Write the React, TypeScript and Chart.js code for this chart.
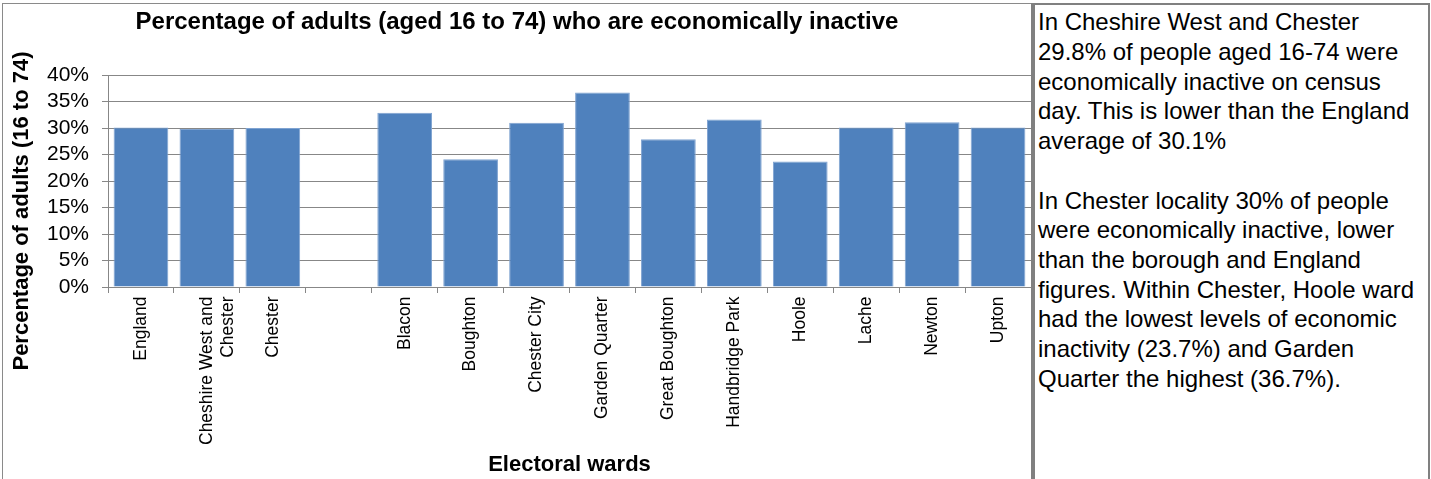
import React, { useEffect, useRef } from 'react';
import { Chart, registerables } from 'chart.js';

Chart.register(...registerables);

const FONT = '"Liberation Sans", Arial, sans-serif';

const CATEGORIES: (string | string[])[] = [
  'England',
  ['Cheshire West and', 'Chester'],
  'Chester',
  '',
  'Blacon',
  'Boughton',
  'Chester City',
  'Garden Quarter',
  'Great Boughton',
  'Handbridge Park',
  'Hoole',
  'Lache',
  'Newton',
  'Upton',
];
const VALUES: (number | null)[] = [30.1, 29.8, 30.0, null, 32.9, 24.1, 31.0, 36.7, 27.9, 31.6, 23.7, 30.1, 31.1, 30.1];
const Y_TICKS: number[] = [0, 5, 10, 15, 20, 25, 30, 35, 40];

const TITLE = 'Percentage of adults (aged 16 to 74) who are economically inactive';
const Y_TITLE = 'Percentage of adults (16 to 74)';
const X_TITLE = 'Electoral wards';

const NOTE_LINES: string[] = [
  'In Cheshire West and Chester',
  '29.8% of people aged 16-74 were',
  'economically inactive on census',
  'day. This is lower than the England',
  'average of 30.1%',
  '',
  'In Chester locality 30% of people',
  'were economically inactive, lower',
  'than the borough and England',
  'figures. Within Chester, Hoole ward',
  'had the lowest levels of economic',
  'inactivity (23.7%) and Garden',
  'Quarter the highest (36.7%).',
];

const GRID = '#878787';

const yTitlePlugin = {
  id: 'yTitleCustom',
  afterDraw(chart: any) {
    const ctx = chart.ctx;
    const area = chart.chartArea;
    ctx.save();
    ctx.font = `bold 22px ${FONT}`;
    ctx.fillStyle = '#000';
    ctx.textAlign = 'center';
    ctx.textBaseline = 'middle';
    ctx.translate(area.left - 86, area.top + 136);
    ctx.rotate(-Math.PI / 2);
    ctx.fillText(Y_TITLE, 0, 0);
    ctx.restore();
  },
};

export default function App() {
  const ref = useRef<HTMLCanvasElement | null>(null);

  useEffect(() => {
    if (!ref.current) return;
    const chart = new Chart(ref.current, {
      type: 'bar',
      data: {
        labels: CATEGORIES as any,
        datasets: [
          {
            data: VALUES,
            backgroundColor: '#4F81BD',
            borderColor: '#7FA3D1',
            borderWidth: 1,
            categoryPercentage: 1,
            barPercentage: 0.83,
          },
        ],
      },
      options: {
        responsive: false,
        animation: false,
        devicePixelRatio: 1,
        layout: { padding: 0 },
        plugins: {
          legend: { display: false },
          tooltip: { enabled: false },
          title: {
            display: true,
            text: TITLE,
            color: '#000',
            font: { family: FONT, size: 24, weight: 'bold' },
            padding: { top: 3.5, bottom: 38.7 },
          },
        },
        scales: {
          x: {
            grid: {
              display: true,
              drawOnChartArea: false,
              drawTicks: true,
              tickLength: 6,
              offset: true,
              color: GRID,
            },
            border: { display: true, color: GRID },
            ticks: {
              autoSkip: false,
              maxRotation: 90,
              minRotation: 90,
              padding: 3.5,
              color: '#000',
              font: { family: FONT, size: 17.5 },
            },
            title: {
              display: true,
              text: X_TITLE,
              color: '#000',
              font: { family: FONT, size: 22, weight: 'bold' },
              padding: { top: 0, bottom: 1 },
            },
            afterFit: (scale: any) => {
              scale.height = 192;
            },
          },
          y: {
            min: 0,
            max: 40,
            grid: {
              color: GRID,
              drawTicks: true,
              tickLength: 6,
            },
            border: { display: true, color: GRID },
            afterBuildTicks: (scale: any) => {
              scale.ticks = Y_TICKS.map((v) => ({ value: v }));
            },
            ticks: {
              autoSkip: false,
              stepSize: 5,
              padding: 13,
              color: '#000',
              font: { family: FONT, size: 21 },
              callback: (v: any) => `${v}%`,
            },
            afterFit: (scale: any) => {
              scale.width = 105;
            },
          },
        },
      },
      plugins: [yTitlePlugin],
    });
    return () => chart.destroy();
  }, []);

  return (
    <div
      style={{
        position: 'absolute',
        left: 0,
        top: 0,
        width: 1431,
        height: 479,
        overflow: 'hidden',
        background: '#fff',
        fontFamily: FONT,
      }}
    >
      <div
        style={{
          position: 'absolute',
          left: 2,
          top: 3,
          width: 1030,
          height: 480,
          borderLeft: '1px solid #8a8a8a',
          borderTop: '1px solid #8a8a8a',
          boxSizing: 'border-box',
        }}
      />
      <canvas
        ref={ref}
        width={1028}
        height={475}
        style={{ position: 'absolute', left: 3, top: 4, width: 1028, height: 475 }}
      />
      <div style={{ position: 'absolute', left: 1031, top: 3, width: 4, height: 480, background: '#808080' }} />
      <div style={{ position: 'absolute', left: 1031, top: 3, width: 399, height: 2, background: '#808080' }} />
      <div style={{ position: 'absolute', left: 1428, top: 3, width: 2, height: 480, background: '#808080' }} />
      <div
        style={{
          position: 'absolute',
          left: 1038,
          top: 7.3,
          fontSize: 24,
          lineHeight: '29.7px',
          color: '#000',
          whiteSpace: 'pre',
          fontFamily: FONT,
        }}
      >
        {NOTE_LINES.join('\n')}
      </div>
    </div>
  );
}
